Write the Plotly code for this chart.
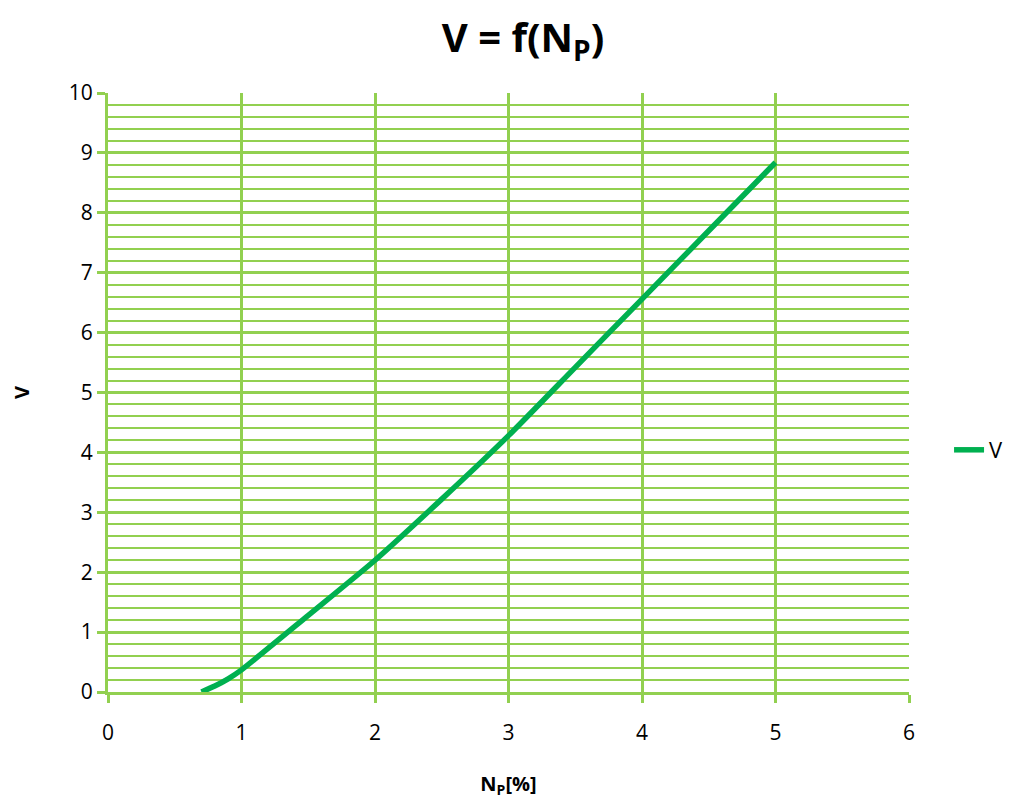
import plotly.graph_objects as go

# N_P [%] and V
np_pct = [0.7, 0.8, 0.9, 1.0, 1.5, 2.0, 2.5, 3.0, 3.5, 4.0, 4.5, 5.0]
v_vals = [0.0, 0.1, 0.22, 0.37, 1.28, 2.2, 3.22, 4.28, 5.42, 6.56, 7.7, 8.84]

x_ticks = [0, 1, 2, 3, 4, 5, 6]
y_ticks = [0, 1, 2, 3, 4, 5, 6, 7, 8, 9, 10]

grid_col = "#92D050"
line_col = "#00B050"
font_fam = "Open Sans, Lato, sans-serif"

trace = go.Scatter(x=np_pct, y=v_vals, mode="lines", name="V",
                   line=dict(color=line_col, width=5.5, shape="spline", smoothing=0.6))

layout = go.Layout(
    width=1030, height=800,
    paper_bgcolor="white", plot_bgcolor="white",
    font=dict(family=font_fam, color="black", size=20),
    title=dict(text="<b>V = f(N<sub>P</sub>)</b>", x=0.5, xanchor="center",
               y=0.962, yanchor="middle", font=dict(size=40)),
    margin=dict(l=100, r=129, t=85, b=116),
    xaxis=dict(range=[0, 6], tickvals=x_ticks, showgrid=True, gridcolor=grid_col, gridwidth=3,
               zeroline=False, showline=True, linecolor=grid_col, linewidth=3,
               ticks="outside", ticklen=8, tickwidth=3, tickcolor=grid_col,
               tickfont=dict(size=21), ticklabelstandoff=12, automargin=False,
               title=dict(text="<b>N<sub>P</sub>[%]</b>", font=dict(size=20), standoff=32)),
    yaxis=dict(range=[0, 10], tickvals=y_ticks, showgrid=True, gridcolor=grid_col, gridwidth=3,
               zeroline=False, showline=True, linecolor=grid_col, linewidth=3,
               ticks="outside", ticklen=8, tickwidth=3, tickcolor=grid_col,
               tickfont=dict(size=21), automargin=False,
               minor=dict(dtick=0.2, showgrid=True, gridcolor=grid_col, gridwidth=2),
               title=dict(text="<b>V</b>", font=dict(size=20), standoff=45)),
    legend=dict(x=1.05, y=0.404, xanchor="left", yanchor="middle", font=dict(size=22)),
    showlegend=True,
)

fig = go.Figure(data=[trace], layout=layout)
fig.write_html("out.html")
